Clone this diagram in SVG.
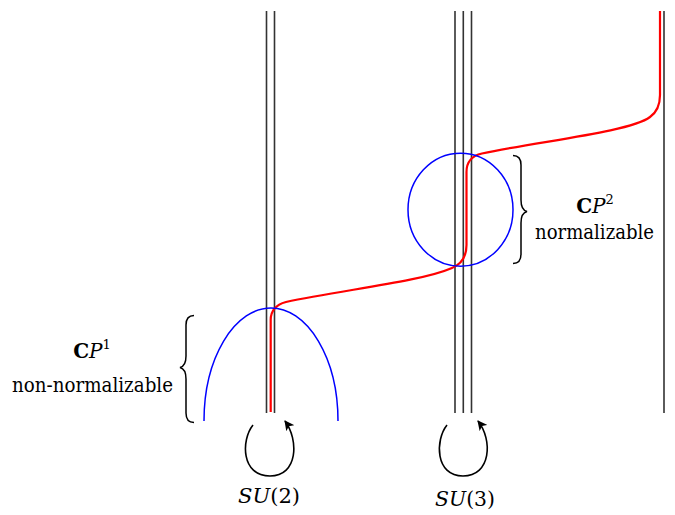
<svg xmlns="http://www.w3.org/2000/svg" width="675" height="515" viewBox="0 0 675 515">
<defs>
<style>
.ln{stroke:#333;stroke-width:1.6;fill:none}
.red{stroke:#f00;stroke-width:2.2;fill:none;stroke-linejoin:round}
.blue{stroke:#00f;stroke-width:1.5;fill:none}
.br{stroke:#000;stroke-width:1.5;fill:none}
.loop{stroke:#000;stroke-width:1.6;fill:none}
</style>
<marker id="ah" viewBox="0 0 10 10" refX="9" refY="5" markerWidth="10" markerHeight="10" markerUnits="userSpaceOnUse" orient="auto">
<path d="M0 0 L10 5 L0 10 L2.5 5 Z" fill="#000"/>
</marker>
</defs>
<g id="connectors">
<g id="su2-stack">
<line class="ln" x1="266.5" y1="11" x2="266.5" y2="413"/>
<line class="ln" x1="274.5" y1="11" x2="274.5" y2="413"/>
</g>
<g id="su3-stack">
<line class="ln" x1="455" y1="11" x2="455" y2="413"/>
<line class="ln" x1="463.3" y1="11" x2="463.3" y2="413"/>
<line class="ln" x1="471.5" y1="11" x2="471.5" y2="413"/>
</g>
<line id="right-line" class="ln" x1="664" y1="11" x2="664" y2="413"/>
<path id="red-path" class="red" d="M270.7 412 V320 Q270.7 306 286 302 C340 290 420 282 452 268 Q466.5 262 466.5 245 V172 Q466.5 157 482 153.5 C540 141 630 132 650 117 Q660 110 660 95 V11"/>
</g>
<g id="cp1-arch"><path class="blue" d="M204 421 A67 113 0 0 1 338 421"/></g>
<g id="cp2-circle"><ellipse class="blue" cx="460.5" cy="209.7" rx="52.5" ry="56.5"/></g>
<g id="brace-left"><path class="br" d="M194 315.5 Q186 315.5 186 325 V356 Q186 366 180 367.5 Q186 369 186 379 V413 Q186 422.5 194 422.5"/></g>
<g id="brace-right"><path class="br" d="M513 155.5 Q521 155.5 521 165 V200 Q521 210 527 211.5 Q521 213 521 223 V254 Q521 263.5 513 263.5"/></g>
<g id="label-cp1" font-family="'DejaVu Serif', 'Liberation Serif', serif" font-size="20">
<text x="92" y="358" text-anchor="middle"><tspan font-weight="bold">C</tspan><tspan font-style="italic">P</tspan><tspan font-size="13" dy="-9">1</tspan></text>
<text x="12" y="392" textLength="161" lengthAdjust="spacingAndGlyphs">non-normalizable</text>
</g>
<g id="label-cp2" font-family="'DejaVu Serif', 'Liberation Serif', serif" font-size="20">
<text x="595" y="213" text-anchor="middle"><tspan font-weight="bold">C</tspan><tspan font-style="italic">P</tspan><tspan font-size="13" dy="-9">2</tspan></text>
<text x="535" y="239" textLength="119" lengthAdjust="spacingAndGlyphs">normalizable</text>
</g>
<g id="su2" font-family="'DejaVu Serif', 'Liberation Serif', serif" font-size="21">
<path class="loop" marker-end="url(#ah)" d="M253 425 C241 440 241 476 270 476 C298 476 299 440 285 421"/>
<text x="269" y="503" text-anchor="middle" textLength="62" lengthAdjust="spacingAndGlyphs"><tspan font-style="italic">SU</tspan>(2)</text>
</g>
<g id="su3" font-family="'DejaVu Serif', 'Liberation Serif', serif" font-size="21">
<path class="loop" marker-end="url(#ah)" d="M447 425 C435 440 435 476 463 476 C491 476 493 440 478 421"/>
<text x="465" y="506" text-anchor="middle" textLength="60" lengthAdjust="spacingAndGlyphs"><tspan font-style="italic">SU</tspan>(3)</text>
</g>
</svg>
